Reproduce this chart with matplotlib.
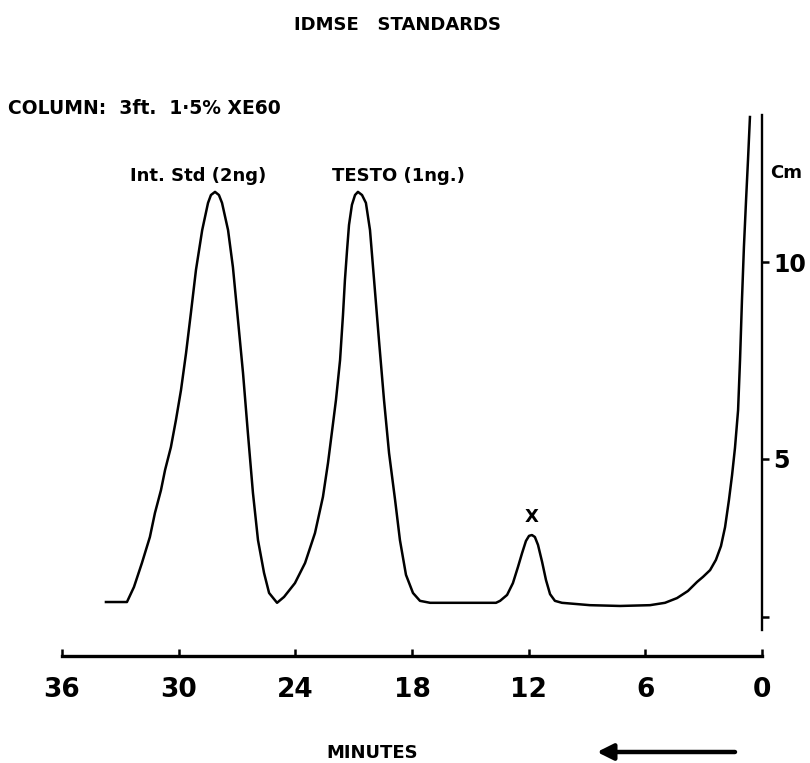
import matplotlib
matplotlib.use("Agg")
import matplotlib.pyplot as plt

plt.rcParams['font.family'] = ['DejaVu Sans']

# retention time (minutes) and recorder deflection (cm)
minutes = [33.74, 32.66, 32.30, 31.89, 31.48, 31.22, 30.91, 30.70, 30.40, 30.14,
           29.88, 29.62, 29.37, 29.11, 28.79, 28.49, 28.34, 28.13, 27.93, 27.77,
           27.46, 27.21, 26.95, 26.69, 26.44, 26.18, 25.92, 25.61, 25.35, 24.94,
           24.58, 24.02, 23.50, 22.99, 22.58, 22.32, 22.06, 21.91, 21.70, 21.55,
           21.45, 21.34, 21.24, 21.09, 20.93, 20.78, 20.57, 20.37, 20.16, 19.95,
           19.70, 19.44, 19.18, 18.87, 18.62, 18.31, 17.95, 17.59, 17.07, 15.53,
           13.68, 13.47, 13.11, 12.81, 12.55, 12.34, 12.14, 11.98, 11.83, 11.68,
           11.52, 11.31, 11.11, 10.90, 10.65, 10.29, 8.85, 7.30, 5.76, 4.99,
           4.37, 3.81, 3.34, 3.03, 2.67, 2.37, 2.11, 1.90, 1.70, 1.54,
           1.39, 1.23, 1.13, 1.03, 0.93, 0.82, 0.72, 0.62]
signal = [1.37, 1.37, 1.75, 2.36, 3.02, 3.63, 4.21, 4.72, 5.30, 5.99,
          6.75, 7.69, 8.71, 9.80, 10.81, 11.50, 11.70, 11.78, 11.70, 11.50,
          10.81, 9.87, 8.53, 7.18, 5.66, 4.14, 2.94, 2.11, 1.60, 1.35,
          1.50, 1.85, 2.36, 3.12, 4.04, 4.90, 5.91, 6.50, 7.51, 8.65,
          9.54, 10.30, 10.94, 11.45, 11.70, 11.78, 11.70, 11.50, 10.81, 9.54,
          8.02, 6.50, 5.15, 3.96, 2.94, 2.06, 1.60, 1.40, 1.35, 1.35,
          1.35, 1.40, 1.55, 1.85, 2.26, 2.61, 2.92, 3.05, 3.07, 3.02,
          2.82, 2.39, 1.93, 1.57, 1.40, 1.35, 1.29, 1.27, 1.29, 1.35,
          1.47, 1.65, 1.88, 2.01, 2.18, 2.44, 2.79, 3.27, 3.96, 4.59,
          5.28, 6.24, 7.51, 9.04, 10.38, 11.57, 12.59, 13.68]

x_ticks = [36, 30, 24, 18, 12, 6, 0]
y_ticks = [1, 5, 10]
y_tick_labels = ['', '5', '10']

W, H = 810, 763
fig = plt.figure(figsize=(W / 100, H / 100), dpi=100)

# axes: 36 min at x=62px, 0 min at x=762px; 0 cm at y=656px, 39.4 px per cm
ax = fig.add_axes([62 / W, (H - 656) / H, 700 / W, 15 * 39.4 / H])
ax.set_xlim(36, 0)
ax.set_ylim(0, 15)
ax.patch.set_alpha(0)

ax.plot(minutes, signal, color='black', lw=1.8, solid_joinstyle='round')

for s in ['top', 'left']:
    ax.spines[s].set_visible(False)
ax.spines['bottom'].set_linewidth(2.4)
ax.spines['right'].set_linewidth(1.7)
ax.spines['right'].set_bounds(0.66, 13.73)

ax.set_xticks(x_ticks)
ax.set_xticklabels([str(t) for t in x_ticks], fontsize=19, fontweight='bold')
ax.tick_params(axis='x', direction='in', length=5, width=1.8, pad=15)

ax.yaxis.tick_right()
ax.set_yticks(y_ticks)
ax.set_yticklabels(y_tick_labels, fontsize=17, fontweight='bold')
ax.tick_params(axis='y', direction='out', length=5, width=1.8, pad=3)


def label(x, y, s, size, ha='center'):
    fig.text(x / W, 1 - y / H, s, fontsize=size, fontweight='bold', ha=ha, va='center')


label(398, 25, 'IDMSE   STANDARDS', 13)
label(8, 108, 'COLUMN:  3ft.  1·5% XE60', 13.5, ha='left')
label(130, 176, 'Int. Std (2ng)', 13, ha='left')
label(332, 176, 'TESTO (1ng.)', 13, ha='left')
label(532, 517, 'X', 13)
label(770, 173, 'Cm', 13, ha='left')
label(372, 753, 'MINUTES', 13)

ax.annotate('', xy=(597 / W, 1 - 752 / H), xycoords='figure fraction',
            xytext=(735 / W, 1 - 752 / H), textcoords='figure fraction',
            arrowprops=dict(arrowstyle='-|>', lw=3.2, color='black',
                            mutation_scale=24, shrinkA=0, shrinkB=0))

fig.savefig('out.png', dpi=100)
